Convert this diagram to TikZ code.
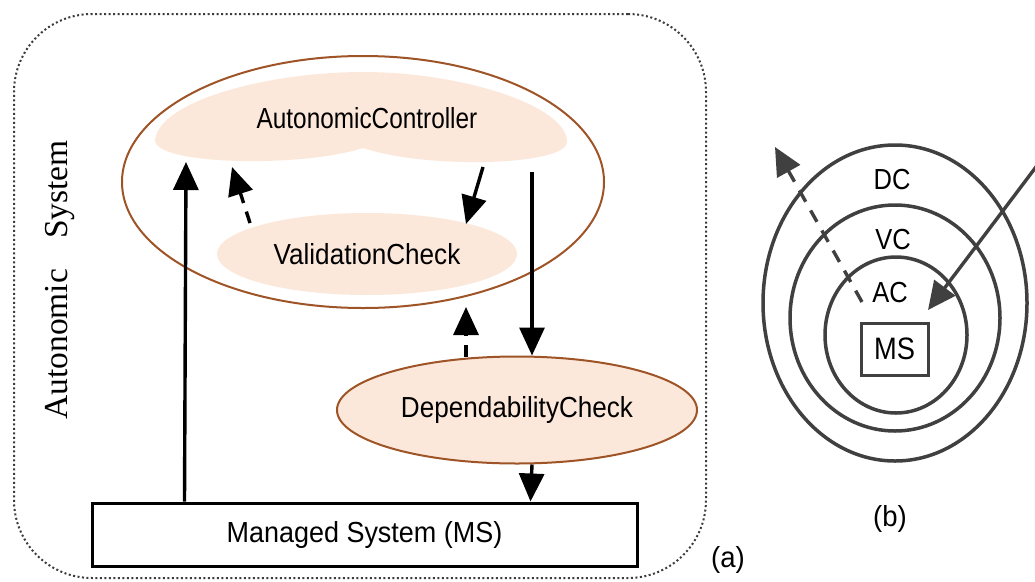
\documentclass[tikz,border=0pt]{standalone}
\usepackage{fontspec}
\setmainfont{Liberation Serif}
\setsansfont{Liberation Sans}
\usetikzlibrary{arrows.meta,shapes.geometric,calc}

\definecolor{rim}{RGB}{158,84,38}
\definecolor{peach}{RGB}{252,232,218}
\definecolor{ring}{RGB}{64,64,64}
\definecolor{dots}{RGB}{60,60,60}

% horizontally narrowed sans label
\newcommand{\narrow}[2]{\scalebox{#1}[1]{#2}}

\begin{document}
\begin{tikzpicture}[x=1pt,y=-1pt,
  lbl/.style={font=\sffamily\fontsize{29}{32}\selectfont, inner sep=0pt},
  sublbl/.style={font=\sffamily\fontsize{29}{32}\selectfont, inner sep=0pt},
  flow/.style={line width=3.4pt, -{Triangle[width=25pt,length=28pt]}},
  dashflow/.style={flow, dash pattern=on 12pt off 9pt},
  ringline/.style={ellipse, draw=ring, line width=3.5pt, inner sep=0pt},
  ringflow/.style={draw=ring, line width=3.4pt, -{Triangle[width=26pt,length=28pt]}, color=ring},
]
\useasboundingbox (0,0) rectangle (1035,581);
\clip (0,0) rectangle (1035,581);
\fill[white] (0,0) rectangle (1035,581);

% ---------- (a) layered autonomic system ----------
\node[draw=dots, line width=2pt, dash pattern=on 2pt off 2.5pt,
      rounded corners=78pt, minimum width=692pt, minimum height=564pt,
      inner sep=0pt] (sys) at (360,296) {};

\node[rotate=90, anchor=base, font=\rmfamily\fontsize{33.5}{36}\selectfont, inner sep=0pt]
  (systitle) at (67,280) {Autonomic\hspace{30pt}System};

% controller layer enclosing its validation check
\node[ellipse, draw=rim, line width=2pt, minimum width=482pt, minimum height=252pt,
      inner sep=0pt] (layer) at (363,182) {};

\fill[peach] (155,140) .. controls (160,100) and (270,72) .. (363,72)
  .. controls (460,72) and (567,105) .. (567,142)
  .. controls (567,165) and (430,170) .. (363,148)
  .. controls (300,168) and (155,165) .. (155,140) -- cycle;
\node[lbl] (ac) at (367,118) {\narrow{0.84}{AutonomicController}};

\node[ellipse, fill=peach, minimum width=300pt, minimum height=82pt, lbl]
  (vc) at (367,254) {\narrow{0.9}{ValidationCheck}};

\node[ellipse, draw=rim, fill=peach, line width=2pt, minimum width=360pt,
      minimum height=107pt, lbl] (dc) at (517,410) {\narrow{0.9}{DependabilityCheck}};

\node[draw, line width=3pt, minimum width=545pt, minimum height=63pt, lbl]
  (ms) at (364.5,534.5) {\narrow{0.93}{Managed System (MS)}};

% arrow ends on the controller blob and the layer outline
\coordinate (acIn)   at (186,162);
\coordinate (acBack) at (232,167);
\coordinate (acOut)  at (483,167);
\coordinate (acDown) at (532,172);
\coordinate (vcBack) at (250,223);
\coordinate (vcIn)   at (466,224);
\coordinate (layerIn) at (466,307);

\draw[flow] ($(ms.north west)+(94,0)$) -- (acIn);
\draw[dashflow] (vcBack) -- (acBack);
\draw[flow] (acOut) -- (vcIn);
\draw[flow] (acDown) -- ($(dc.north)+(15,0)$);
\draw[dashflow] ($(dc.north)+(-51,1)$) -- (layerIn);
\draw[flow] ($(dc.south)+(15,0)$) -- ($(ms.north west)+(440,0)$);

\node[sublbl] (taga) at (728,560) {\narrow{0.95}{(a)}};

% ---------- (b) nested check rings ----------
\node[ringline, minimum width=264pt, minimum height=316pt] (dcring) at (895,303) {};
\node[ringline, minimum width=210pt, minimum height=226pt] (vcring) at (895,318) {};
\node[ringline, minimum width=142pt, minimum height=156pt] (acring) at (896,335) {};
\node[draw=ring, line width=3pt, minimum width=67pt, minimum height=52pt, sublbl,
      font=\sffamily\fontsize{31}{34}\selectfont]
  (msbox) at (894.5,349) {\narrow{0.88}{MS}};

\node[sublbl] (dctag) at (892,180) {\narrow{0.88}{DC}};
\node[sublbl] (vctag) at (893,240) {\narrow{0.88}{VC}};
\node[sublbl] (actag) at (890,293) {\narrow{0.88}{AC}};

\coordinate (escIn)  at (862,302);
\coordinate (escOut) at (775,147);
\coordinate (feedIn) at (1045,155);
\coordinate (feedTip) at (928,310);

\draw[ringflow, dash pattern=on 13pt off 10pt] (escIn) -- (escOut);
\draw[ringflow] (feedIn) -- (feedTip);

\node[sublbl] (tagb) at (890,519) {\narrow{0.95}{(b)}};
\end{tikzpicture}
\end{document}
